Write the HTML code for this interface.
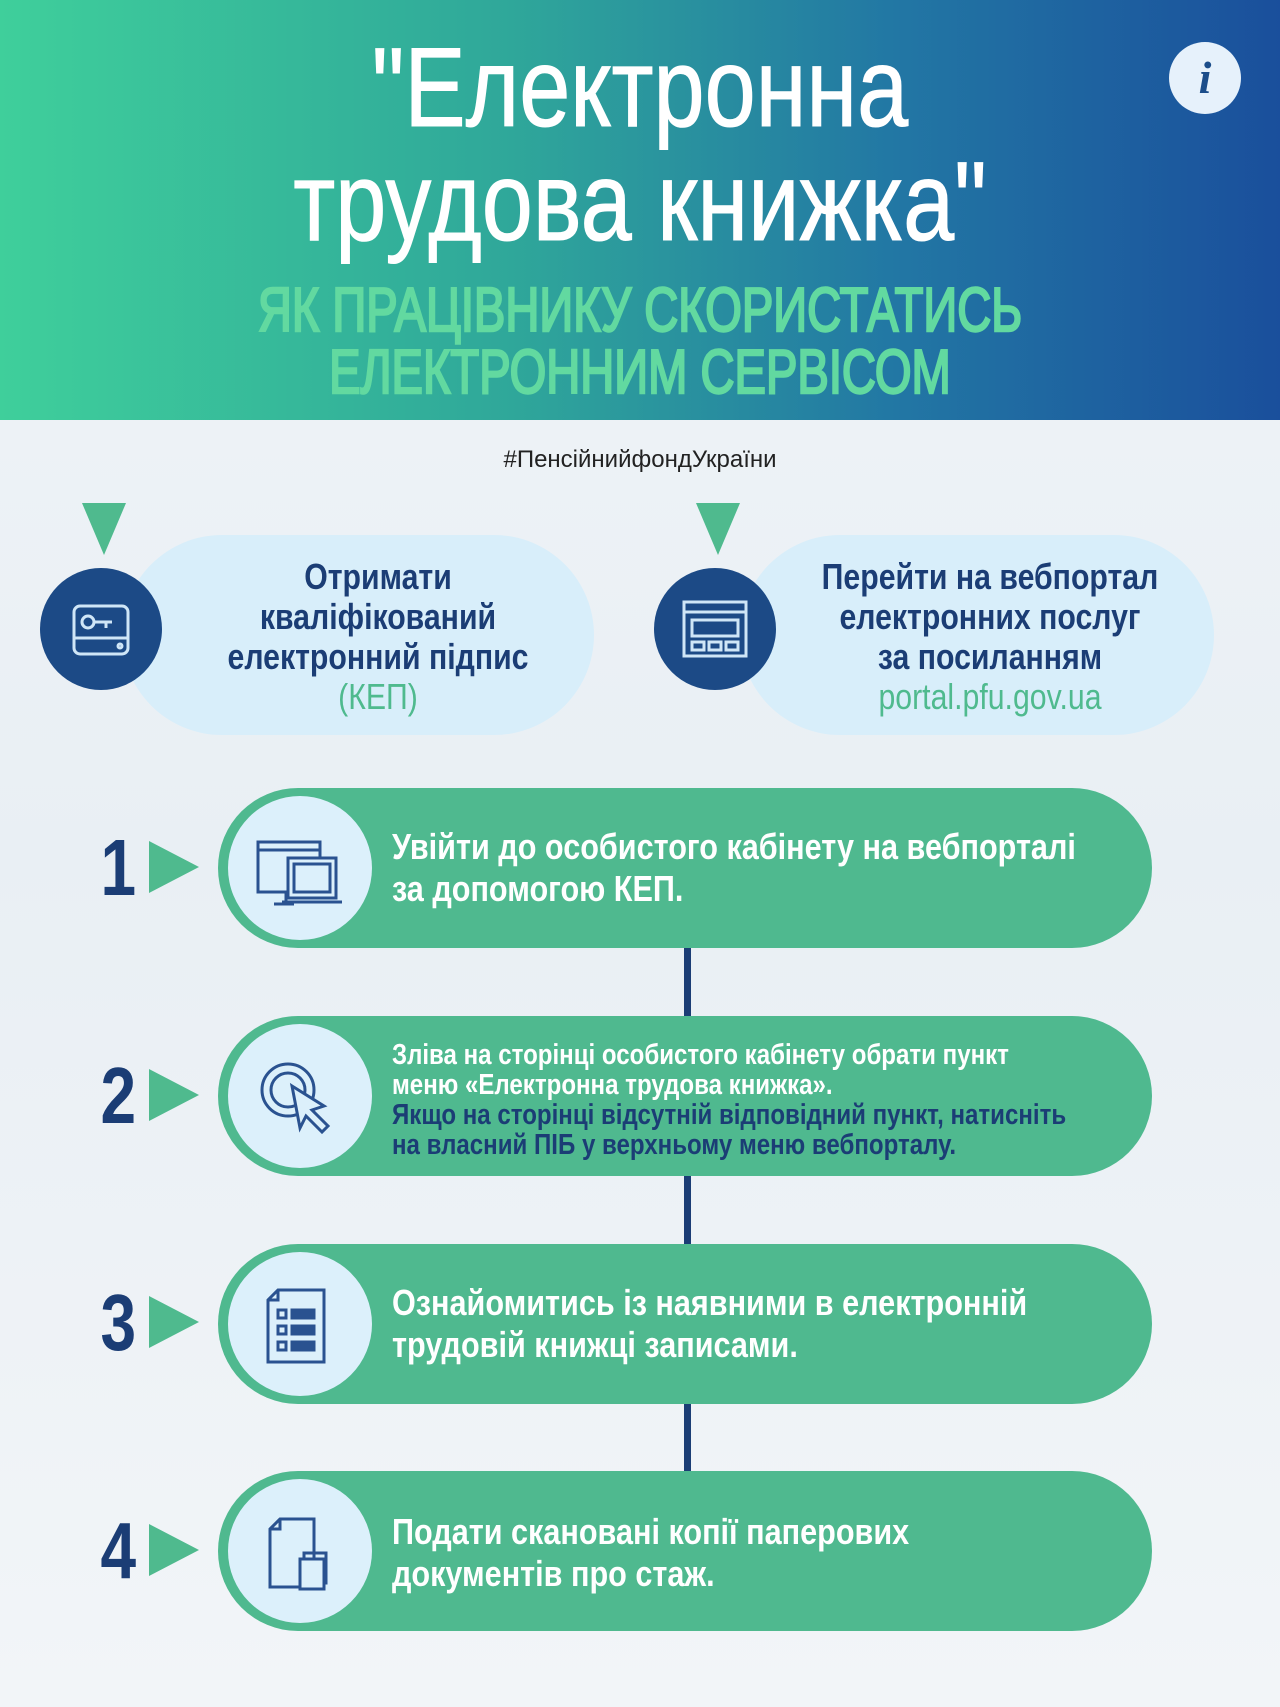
<!DOCTYPE html>
<html><head><meta charset="utf-8"><style>
*{margin:0;padding:0;box-sizing:border-box}
body{width:1280px;height:1707px;position:relative;overflow:hidden;background:linear-gradient(180deg,#f1f5f8,#e9eff4 50%,#f2f5f8);font-family:"Liberation Sans",sans-serif;font-weight:bold}
.hdr{position:absolute;left:0;top:0;width:1280px;height:420px;background:linear-gradient(90deg,#3fcf9b 0%,#2fa79a 40%,#2277a4 70%,#1a4f9c 100%)}
.t{position:absolute;left:0;width:1280px;text-align:center;color:#fff;font-weight:normal;font-size:112px;line-height:1;transform:scaleX(0.82);-webkit-text-stroke:1px #fff}
.s{position:absolute;left:0;width:1280px;text-align:center;color:#62d9a0;font-size:62px;line-height:1;transform:scaleX(0.76);font-weight:normal;-webkit-text-stroke:2.5px #62d9a0}
.info{position:absolute;left:1169px;top:42px;width:72px;height:72px;border-radius:50%;background:#e6f1fb;color:#1b4d8a;font:italic bold 46px "Liberation Serif",serif;text-align:center;line-height:72px}
.hash{position:absolute;left:0;width:1280px;top:446px;text-align:center;font-size:24px;color:#222;font-weight:normal}
.tri{position:absolute;width:0;height:0;border-left:22px solid transparent;border-right:22px solid transparent;border-top:52px solid #4fba8e}
.lp{position:absolute;background:#d8eefa;border-radius:100px;color:#1b3d75;font-size:36px;text-align:center;line-height:40px}
.lp div{transform:scaleX(0.84);white-space:nowrap}
.dc{position:absolute;width:122px;height:122px;border-radius:50%;background:#1c4a86}
.pill{position:absolute;left:218px;width:934px;height:160px;border-radius:80px;background:#4fb98f}
.ic{position:absolute;left:10px;top:8px;width:144px;height:144px;border-radius:50%;background:#dcf0fb}
.pt{position:absolute;left:174px;color:#fff;font-size:36px;line-height:42px;white-space:nowrap;transform:scaleX(0.85);transform-origin:0 0}
.num{position:absolute;left:96px;color:#1b3d75;font-size:80px;font-weight:bold;transform:scaleX(0.8)}
.rt{position:absolute;left:149px;width:0;height:0;border-top:26px solid transparent;border-bottom:26px solid transparent;border-left:50px solid #4fba8e}
.line{position:absolute;left:684px;width:7px;background:#1b3d75}
</style></head><body>
<div class="hdr"></div>
<div class="t" style="top:32px">"Електронна</div>
<div class="t" style="top:146px">трудова книжка"</div>
<div class="s" style="top:280px">ЯК ПРАЦІВНИКУ СКОРИСТАТИСЬ</div>
<div class="s" style="top:342px">ЕЛЕКТРОННИМ СЕРВІСОМ</div>
<div class="info">i</div>
<div class="hash">#ПенсійнийфондУкраїни</div>

<div class="lp" style="left:122px;top:535px;width:472px;height:200px;padding-top:22px;padding-left:40px"><div>Отримати<br>кваліфікований<br>електронний підпис<br><span style="color:#4fba8e;font-weight:normal">(КЕП)</span></div></div>
<div class="tri" style="left:82px;top:503px"></div>
<div class="dc" style="left:40px;top:568px"><svg width="122" height="122" viewBox="0 0 122 122" fill="none" stroke="#cfe6f7" stroke-width="3"><rect x="34" y="38" width="54" height="48" rx="6"/><line x1="34" y1="70" x2="88" y2="70"/><circle cx="48" cy="54" r="6"/><line x1="54" y1="54" x2="72" y2="54"/><line x1="66" y1="54" x2="66" y2="60"/><circle cx="80" cy="78" r="2"/></svg></div>

<div class="lp" style="left:740px;top:535px;width:474px;height:200px;padding-top:22px;padding-left:26px"><div>Перейти на вебпортал<br>електронних послуг<br>за посиланням<br><span style="color:#4fba8e;font-weight:normal">portal.pfu.gov.ua</span></div></div>
<div class="tri" style="left:696px;top:503px"></div>
<div class="dc" style="left:654px;top:568px"><svg width="122" height="122" viewBox="0 0 122 122" fill="none" stroke="#cfe6f7" stroke-width="3"><rect x="30" y="34" width="62" height="54"/><line x1="30" y1="44" x2="92" y2="44"/><rect x="38" y="52" width="46" height="16"/><rect x="38" y="74" width="12" height="8"/><rect x="55" y="74" width="12" height="8"/><rect x="72" y="74" width="12" height="8"/></svg></div>

<div class="line" style="top:945px;height:75px"></div>
<div class="line" style="top:1175px;height:75px"></div>
<div class="line" style="top:1402px;height:72px"></div>

<div class="num" style="top:822px">1</div><div class="rt" style="top:841px"></div>
<div class="pill" style="top:788px"><div class="ic"><svg width="144" height="144" viewBox="0 0 144 144" fill="none" stroke="#2a5290" stroke-width="3"><rect x="30" y="46" width="62" height="50"/><line x1="30" y1="54" x2="92" y2="54"/><line x1="58" y1="96" x2="58" y2="108"/><line x1="46" y1="108" x2="66" y2="108"/><rect x="60" y="62" width="48" height="40" fill="#dcf0fb"/><rect x="66" y="68" width="36" height="28"/><line x1="54" y1="106" x2="114" y2="106"/></svg></div><div class="pt" style="top:38px">Увійти до особистого кабінету на вебпорталі<br>за допомогою КЕП.</div></div>

<div class="num" style="top:1050px">2</div><div class="rt" style="top:1069px"></div>
<div class="pill" style="top:1016px"><div class="ic"><svg width="144" height="144" viewBox="0 0 144 144" fill="none" stroke="#2a5290" stroke-width="3"><circle cx="60" cy="66" r="26"/><circle cx="60" cy="66" r="17"/><path d="M64 62 L96 82 L84 86 L100 102 L94 108 L78 92 L72 104 Z" fill="#dcf0fb"/></svg></div><div class="pt" style="top:24px;font-size:29px;line-height:30px;transform:scaleX(0.83)">Зліва на сторінці особистого кабінету обрати пункт<br>меню «Електронна трудова книжка».<br><span style="color:#1b3d75">Якщо на сторінці відсутній відповідний пункт, натисніть<br>на власний ПІБ у верхньому меню вебпорталу.</span></div></div>

<div class="num" style="top:1277px">3</div><div class="rt" style="top:1296px"></div>
<div class="pill" style="top:1244px"><div class="ic"><svg width="144" height="144" viewBox="0 0 144 144" fill="none" stroke="#2a5290" stroke-width="3"><path d="M50 38 H96 V110 H40 V48 Z"/><path d="M40 48 H50 V38"/><rect x="50" y="58" width="8" height="8"/><rect x="50" y="74" width="8" height="8"/><rect x="50" y="90" width="8" height="8"/><rect x="64" y="58" width="22" height="8" fill="#2a5290"/><rect x="64" y="74" width="22" height="8" fill="#2a5290"/><rect x="64" y="90" width="22" height="8" fill="#2a5290"/></svg></div><div class="pt" style="top:38px">Ознайомитись із наявними в електронній<br>трудовій книжці записами.</div></div>

<div class="num" style="top:1505px">4</div><div class="rt" style="top:1524px"></div>
<div class="pill" style="top:1471px"><div class="ic"><svg width="144" height="144" viewBox="0 0 144 144" fill="none" stroke="#2a5290" stroke-width="3"><path d="M52 40 H86 V108 H42 V50 Z"/><path d="M42 50 H52 V40"/><rect x="72" y="80" width="24" height="30" fill="#dcf0fb"/><path d="M76 80 V74 H98 V104 H96"/></svg></div><div class="pt" style="top:40px">Подати скановані копії паперових<br>документів про стаж.</div></div>
</body></html>
